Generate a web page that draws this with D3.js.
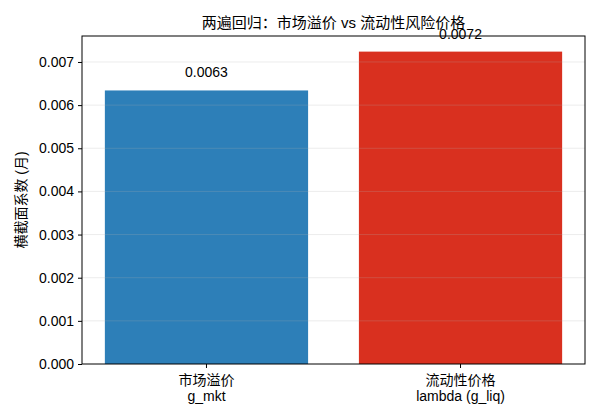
<!DOCTYPE html>
<html>
<head>
<meta charset="utf-8">
<script src="https://cdn.jsdelivr.net/npm/d3@7"></script>
<style>
  body { margin: 0; background: #fff; }
  svg text { font-family: "Liberation Sans", Arial, "Noto Sans CJK SC", sans-serif; }
</style>
</head>
<body>
<svg id="chart"></svg>
<script>
// two-pass regression: intercept coefficients
var categories = ['市场溢价', '流动性价格']
var subLabels = ['g_mkt', 'lambda (g_liq)']
var values = [0.00634, 0.00724]
var valueLabels = ['0.0063', '0.0072']
var barColors = ['#2d7fb8', '#d9301f']
var yTicks = [0, 0.001, 0.002, 0.003, 0.004, 0.005, 0.006, 0.007]

var margin = {top: 36, right: 15, bottom: 56, left: 82},
    width = 600 - margin.left - margin.right,
    height = 420 - margin.top - margin.bottom

var svg = d3.select('#chart')
    .attr('width', 600)
    .attr('height', 420)

var g = svg.append('g')
    .attr('transform', 'translate(' + margin.left + ',' + margin.top + ')')

var x = d3.scaleBand()
    .domain(categories)
    .range([0, width])
    .paddingInner(0.2)
    .paddingOuter(0.09)

var y = d3.scaleLinear()
    .domain([0, d3.max(values) * 1.05])
    .range([height, 0])

// bars
g.selectAll('.bar')
    .data(values)
  .enter().append('rect')
    .attr('class', 'bar')
    .attr('x', function (d, i) { return x(categories[i]) })
    .attr('width', x.bandwidth())
    .attr('y', function (d) { return y(d) })
    .attr('height', function (d) { return height - y(d) })
    .attr('fill', function (d, i) { return barColors[i] })

// grid on top, faint
g.selectAll('.grid')
    .data(yTicks.slice(1))
  .enter().append('line')
    .attr('x1', 0)
    .attr('x2', width)
    .attr('y1', function (d) { return y(d) })
    .attr('y2', function (d) { return y(d) })
    .attr('stroke', '#b0b0b0')
    .attr('stroke-opacity', 0.3)
    .attr('stroke-width', 0.8)

// value labels
g.selectAll('.bar-label')
    .data(values)
  .enter().append('text')
    .attr('x', function (d, i) { return x(categories[i]) + x.bandwidth() / 2 })
    .attr('y', function (d) { return y(d) - 13 })
    .attr('text-anchor', 'middle')
    .attr('font-size', 14)
    .attr('fill', '#000')
    .text(function (d, i) { return valueLabels[i] })

// y axis
var yAxis = g.append('g')
    .call(d3.axisLeft(y).tickValues(yTicks).tickFormat(d3.format('.3f')).tickSize(4).tickPadding(4))
yAxis.select('.domain').remove()
yAxis.selectAll('text').attr('font-size', 14).attr('fill', '#000').style('font-family', null)
yAxis.selectAll('line').attr('stroke', '#000')

// x axis
var xAxis = g.append('g')
    .attr('transform', 'translate(0,' + height + ')')
    .call(d3.axisBottom(x).tickSize(4).tickFormat(''))
xAxis.select('.domain').remove()
xAxis.selectAll('line').attr('stroke', '#000')

xAxis.selectAll('.tick').each(function (d, i) {
  var t = d3.select(this).append('text')
      .attr('text-anchor', 'middle')
      .attr('font-size', 14)
      .attr('fill', '#000')
  t.append('tspan').attr('x', 0).attr('y', 21).text(categories[i])
  t.append('tspan').attr('x', 0).attr('y', 37).text(subLabels[i])
})

// frame
g.append('rect')
    .attr('width', width)
    .attr('height', height)
    .attr('fill', 'none')
    .attr('stroke', '#000')
    .attr('stroke-width', 1)

// title
svg.append('text')
    .attr('x', margin.left + width / 2)
    .attr('y', 28)
    .attr('text-anchor', 'middle')
    .attr('font-size', 15)
    .text('两遍回归：市场溢价 vs 流动性风险价格')

// y label
svg.append('text')
    .attr('transform', 'translate(26,' + (margin.top + height / 2) + ') rotate(-90)')
    .attr('text-anchor', 'middle')
    .attr('font-size', 14)
    .text('横截面系数 (月)')
</script>
</body>
</html>
